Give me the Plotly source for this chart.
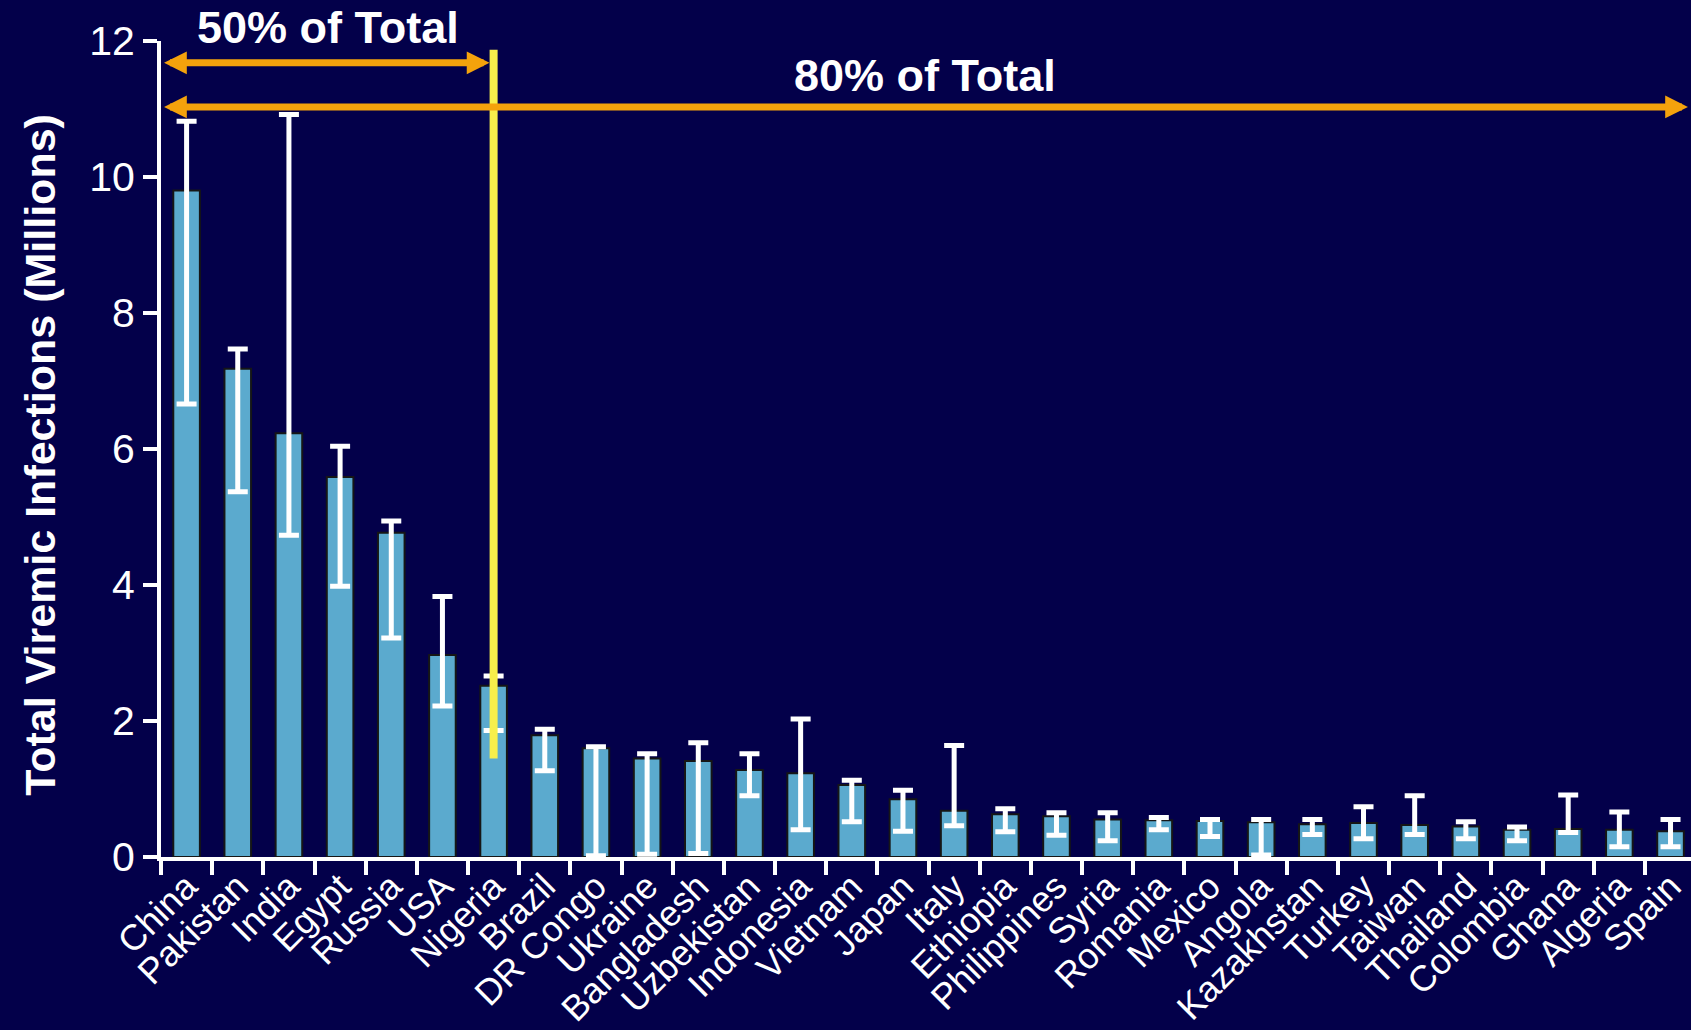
import plotly.graph_objects as go

countries = ["China", "Pakistan", "India", "Egypt", "Russia", "USA", "Nigeria", "Brazil",
             "DR Congo", "Ukraine", "Bangladesh", "Uzbekistan", "Indonesia", "Vietnam",
             "Japan", "Italy", "Ethiopia", "Philippines", "Syria", "Romania", "Mexico",
             "Angola", "Kazakhstan", "Turkey", "Taiwan", "Thailand", "Colombia", "Ghana",
             "Algeria", "Spain"]
infections = [9.80, 7.18, 6.23, 5.59, 4.77, 2.97, 2.52, 1.79, 1.60, 1.45, 1.41, 1.28, 1.23,
              1.06, 0.85, 0.68, 0.63, 0.60, 0.55, 0.54, 0.53, 0.51, 0.48, 0.50, 0.47, 0.45,
              0.40, 0.41, 0.40, 0.38]
upper = [10.82, 7.47, 10.92, 6.04, 4.94, 3.83, 2.66, 1.88, 1.62, 1.52, 1.68, 1.52, 2.03,
         1.13, 0.98, 1.64, 0.71, 0.65, 0.65, 0.58, 0.55, 0.55, 0.55, 0.74, 0.90, 0.52,
         0.44, 0.91, 0.66, 0.55]
lower = [6.66, 5.37, 4.73, 3.98, 3.22, 2.22, 1.86, 1.27, 0.02, 0.04, 0.05, 0.90, 0.40,
         0.52, 0.38, 0.46, 0.37, 0.32, 0.24, 0.40, 0.30, 0.03, 0.33, 0.27, 0.33, 0.27,
         0.24, 0.36, 0.15, 0.15]
y_ticks = [0, 2, 4, 6, 8, 10, 12]
cut50_country = "Nigeria"

BG = "#03004A"
FONT = "Arial, Liberation Sans, sans-serif"
ORANGE = "#F4A20C"

err_plus = [u - v for u, v in zip(upper, infections)]
err_minus = [v - l for v, l in zip(infections, lower)]

fig = go.Figure()
fig.add_trace(go.Bar(
    x=countries, y=infections, width=0.52,
    marker=dict(color="#5BAACE", line=dict(color="#161616", width=2)),
    error_y=dict(type="data", array=err_plus, arrayminus=err_minus, symmetric=False,
                 color="white", thickness=5, width=10),
))

cut_idx = countries.index(cut50_country)
x_left = -0.47
x_right = 29.34

# yellow cutoff line
fig.add_shape(type="line", x0=cut_idx, x1=cut_idx, y0=1.45, y1=11.87,
              xref="x", yref="y", line=dict(color="#F7EF4B", width=8), layer="above")

# 50% arrow
fig.add_annotation(x=cut_idx - 0.08, y=11.68, ax=x_left, ay=11.68, xref="x", yref="y",
                   axref="x", ayref="y", text="", showarrow=True, arrowhead=2,
                   startarrowhead=2, arrowside="end+start", arrowwidth=7,
                   arrowsize=0.65, startarrowsize=0.65, arrowcolor=ORANGE)
# 80% arrow
fig.add_annotation(x=x_right, y=11.03, ax=x_left, ay=11.03, xref="x", yref="y",
                   axref="x", ayref="y", text="", showarrow=True, arrowhead=2,
                   startarrowhead=2, arrowside="end+start", arrowwidth=7,
                   arrowsize=0.65, startarrowsize=0.65, arrowcolor=ORANGE)

fig.add_annotation(x=(x_left + cut_idx) / 2, y=1.017, xref="x", yref="paper",
                   xanchor="center", yanchor="middle",
                   text="<b>50% of Total</b>", showarrow=False,
                   font=dict(family=FONT, size=45, color="white"))
fig.add_annotation(x=(x_left + x_right) / 2, y=11.5, xref="x", yref="y",
                   xanchor="center", yanchor="middle",
                   text="<b>80% of Total</b>", showarrow=False,
                   font=dict(family=FONT, size=45, color="white"))

fig.add_annotation(x=-0.079, y=0.493, xref="paper", yref="paper", textangle=-90,
                   xanchor="center", yanchor="middle",
                   text="<b>Total Viremic Infections (Millions)</b>", showarrow=False,
                   font=dict(family=FONT, size=43, color="white"))

fig.update_layout(
    width=1691, height=1030,
    paper_bgcolor=BG, plot_bgcolor=BG,
    margin=dict(l=161, r=0, t=41, b=173, autoexpand=False),
    showlegend=False,
    font=dict(family=FONT, color="white"),
    xaxis=dict(range=[-0.5, 29.4], showline=True, linecolor="white", linewidth=4,
               ticks="outside", ticklen=14, tickwidth=4, tickcolor="white",
               tickson="boundaries", tickangle=-45, showgrid=False, zeroline=False,
               automargin=False, ticklabelstandoff=-10,
               tickfont=dict(family=FONT, size=36, color="white")),
    yaxis=dict(range=[0, 12], tickvals=y_ticks, showline=True, linecolor="white",
               linewidth=4, ticks="outside", ticklen=14, tickwidth=4, tickcolor="white",
               showgrid=False, zeroline=False, automargin=False,
               tickfont=dict(family=FONT, size=41, color="white")),
)

fig.write_html("out.html", config={"displayModeBar": False},
               post_script="document.body.style.margin='0';"
                           "document.body.style.background='" + BG + "';")
